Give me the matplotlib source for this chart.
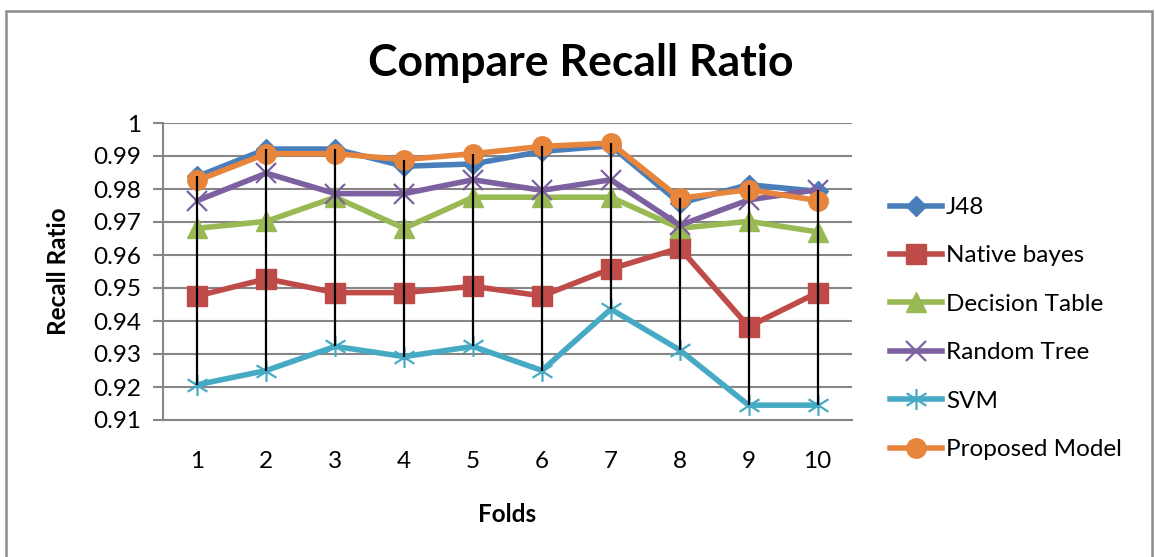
import matplotlib.pyplot as plt
import numpy as np
from matplotlib.path import Path
from matplotlib.patches import Rectangle

plt.rcParams['font.family'] = ['Lato', 'DejaVu Sans']

folds = [1, 2, 3, 4, 5, 6, 7, 8, 9, 10]
j48 = [0.9838, 0.9921, 0.9921, 0.9869, 0.9876, 0.9914, 0.9931, 0.9757, 0.9813, 0.9793]
native_bayes = [0.9476, 0.9528, 0.9486, 0.9486, 0.9505, 0.9476, 0.9558, 0.9621, 0.9383, 0.9486]
decision_table = [0.9681, 0.9702, 0.9775, 0.9681, 0.9775, 0.9775, 0.9775, 0.9681, 0.9702, 0.9670]
random_tree = [0.9765, 0.9848, 0.9786, 0.9786, 0.9828, 0.9796, 0.9828, 0.9690, 0.9767, 0.9798]
svm = [0.9207, 0.9250, 0.9323, 0.9292, 0.9323, 0.9250, 0.9436, 0.9312, 0.9145, 0.9145]
proposed = [0.9826, 0.9907, 0.9907, 0.9889, 0.9907, 0.9929, 0.9939, 0.9772, 0.9798, 0.9765]

yticks = [0.91, 0.92, 0.93, 0.94, 0.95, 0.96, 0.97, 0.98, 0.99, 1.0]
ytick_labels = ['0.91', '0.92', '0.93', '0.94', '0.95', '0.96', '0.97', '0.98', '0.99', '1']

# asterisk marker: vertical stroke plus an X
star = Path(
    [(0, -1), (0, 1), (-0.95, -0.6), (0.95, 0.6), (-0.95, 0.6), (0.95, -0.6)],
    [Path.MOVETO, Path.LINETO, Path.MOVETO, Path.LINETO, Path.MOVETO, Path.LINETO],
)

series = [
    ("J48", j48, '#4A7EBB', 'D', 10),
    ("Native bayes", native_bayes, '#BE4B48', 's', 15),
    ("Decision Table", decision_table, '#98B954', '^', 15),
    ("Random Tree", random_tree, '#7D60A0', 'x', 14),
    ("SVM", svm, '#46AAC5', star, 15),
    ("Proposed Model", proposed, '#E8853D', 'o', 14),
]

fig = plt.figure(figsize=(11.55, 5.57), dpi=100)
fig.patches.append(Rectangle((5.5 / 1155, -0.05), 1146 / 1155, 1.05 - 11 / 557,
                             transform=fig.transFigure, fill=False,
                             edgecolor='#8C8C8C', linewidth=1.8))
ax = fig.add_axes([163 / 1155, 1 - 420 / 557, 689 / 1155, 297 / 557])

for name, vals, color, marker, ms in series:
    open_marker = marker in ('x',) or isinstance(marker, Path)
    ax.plot(folds, vals, color=color, linewidth=4, marker=marker, markersize=ms,
            markerfacecolor=color, markeredgecolor=color,
            markeredgewidth=1.6 if open_marker else 1, label=name, zorder=3)

# high-low lines across all series
stack = np.array([j48, native_bayes, decision_table, random_tree, svm, proposed])
ax.vlines(folds, stack.min(axis=0), stack.max(axis=0), color='black', linewidth=1.6, zorder=4)

ax.set_xlim(0.5, 10.5)
ax.set_ylim(0.91, 1.0)
ax.set_yticks(yticks)
ax.set_yticklabels(ytick_labels)
ax.set_xticks(folds)
ax.tick_params(axis='y', length=7, width=1.5, color='#868686', labelsize=17.5, pad=9)
ax.tick_params(axis='x', length=0, labelsize=17.5, pad=22)
ax.grid(axis='y', color='#868686', linewidth=1.5)
ax.set_axisbelow(True)
for side in ('top', 'right'):
    ax.spines[side].set_visible(False)
for side in ('left', 'bottom'):
    ax.spines[side].set_color('#868686')
    ax.spines[side].set_linewidth(1.5)

fig.text(581 / 1155, 1 - 63 / 557, "Compare Recall Ratio", ha='center', va='center',
         fontsize=32, fontweight='bold')
fig.text(58 / 1155, 1 - 271 / 557, "Recall Ratio", ha='center', va='center',
         rotation=90, fontsize=17.5, fontweight='bold')
fig.text(507 / 1155, 1 - 515 / 557, "Folds", ha='center', va='center',
         fontsize=17.5, fontweight='bold')

ax.legend(loc='upper left', bbox_to_anchor=(890 / 1155, 1 - 197 / 557),
          bbox_transform=fig.transFigure, frameon=False, fontsize=17.5,
          handlelength=2.15, handletextpad=0.15, labelspacing=1.13, borderpad=0,
          borderaxespad=0)

fig.savefig('out.png', dpi=100)
